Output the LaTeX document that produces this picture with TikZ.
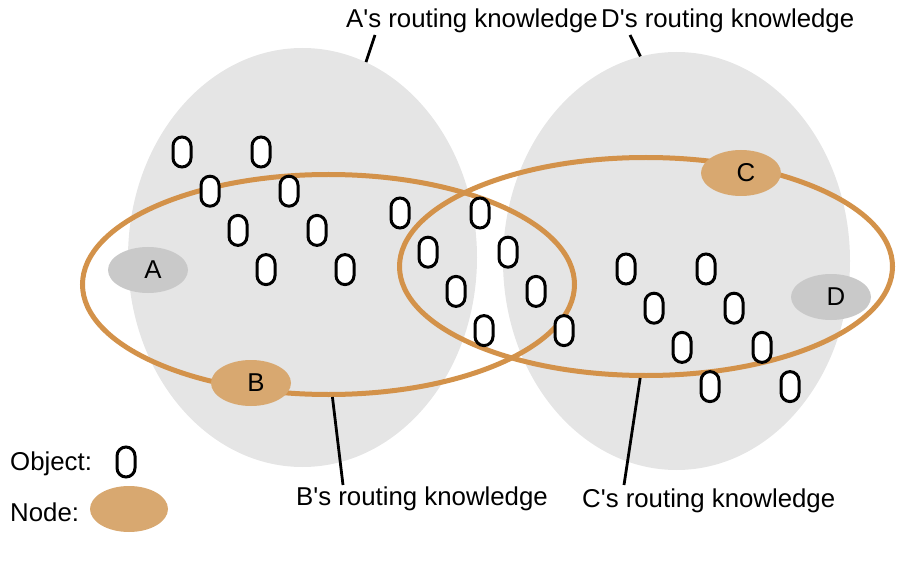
\documentclass[tikz,border=0pt]{standalone}
\usepackage{fontspec}
\setmainfont{Liberation Sans}[Ligatures=TeXOff]
\usetikzlibrary{shapes.geometric}
\definecolor{areagray}{RGB}{229,229,229}
\definecolor{peergray}{RGB}{201,201,201}
\definecolor{reachorange}{RGB}{211,146,74}
\definecolor{peerorange}{RGB}{216,168,112}

\begin{document}
\begin{tikzpicture}[x=1pt, y=-1pt, font=\fontsize{25.8}{30}\selectfont,
		area/.style={ellipse, fill=areagray, inner sep=0pt},
		reach/.style={ellipse, draw=reachorange, line width=5pt, inner sep=0pt},
		peer/.style={ellipse, inner sep=0pt, minimum width=80pt, minimum height=46pt, execute at begin node=\hspace{10pt}},
		object/.style={draw, line width=3pt, fill=white, rounded corners=9pt, inner sep=0pt, minimum width=18pt, minimum height=30pt},
		lbl/.style={anchor=base west, inner sep=0pt},
		pointer/.style={line width=2.8pt}]
				\useasboundingbox (0,0) rectangle (913,564);
				% routing knowledge of A and D
				\node[area, minimum width=349pt, minimum height=419pt] (knowA) at (302.5,257.5) {};
				\node[area, minimum width=347pt, minimum height=418pt] (knowD) at (676.5,261) {};
				% routing knowledge of B and C
				\node[reach, minimum width=492pt, minimum height=220pt] (knowB) at (328.5,284.5) {};
				\node[reach, minimum width=493pt, minimum height=218pt] (knowC) at (646,266.5) {};
				% objects
				\foreach \gx/\gy/\g/\dx in {182/152/l/79, 400/213/m/80, 626/269/r/80}
					\foreach \k in {0,...,3} {
						\node[object] (obj-\g-\k-a) at ({\gx+28*\k},{\gy+39.2*\k}) {};
						\node[object] (obj-\g-\k-b) at ({\gx+\dx+28*\k},{\gy+39.2*\k}) {};
					}
				% nodes
				\node[peer, fill=peergray] (peerA) at (148,270) {A};
				\node[peer, fill=peerorange] (peerB) at (251,383) {B};
				\node[peer, fill=peerorange] (peerC) at (741,173) {C};
				\node[peer, fill=peergray] (peerD) at (831,297) {D};
				% labels
				\node[lbl] (labA) at (346,28) {A's routing knowledge};
				\node[lbl] (labD) at (601,28) {D's routing knowledge};
				\node[lbl] (labB) at (296,505) {B's routing knowledge};
				\node[lbl] (labC) at (582,507) {C's routing knowledge};
				\coordinate (tipA) at (375,35);
				\coordinate (tipD) at (630,35);
				\coordinate (tipB) at (343,485);
				\coordinate (tipC) at (624,485);
				\draw[pointer] (tipA) -- (knowA.72);
				\draw[pointer] (tipD) -- (knowD.100);
				\draw[pointer] (tipB) -- (knowB.-88);
				\draw[pointer] (tipC) -- (knowC.-93);
				% legend
				\node[lbl] (legObj) at (10,470) {Object:};
				\node[object] (legObjSym) at (126,462) {};
				\node[lbl] (legNode) at (10,521) {Node:};
				\node[peer, fill=peerorange, minimum width=78pt] (legNodeSym) at (129,509) {};
\end{tikzpicture}
\end{document}
